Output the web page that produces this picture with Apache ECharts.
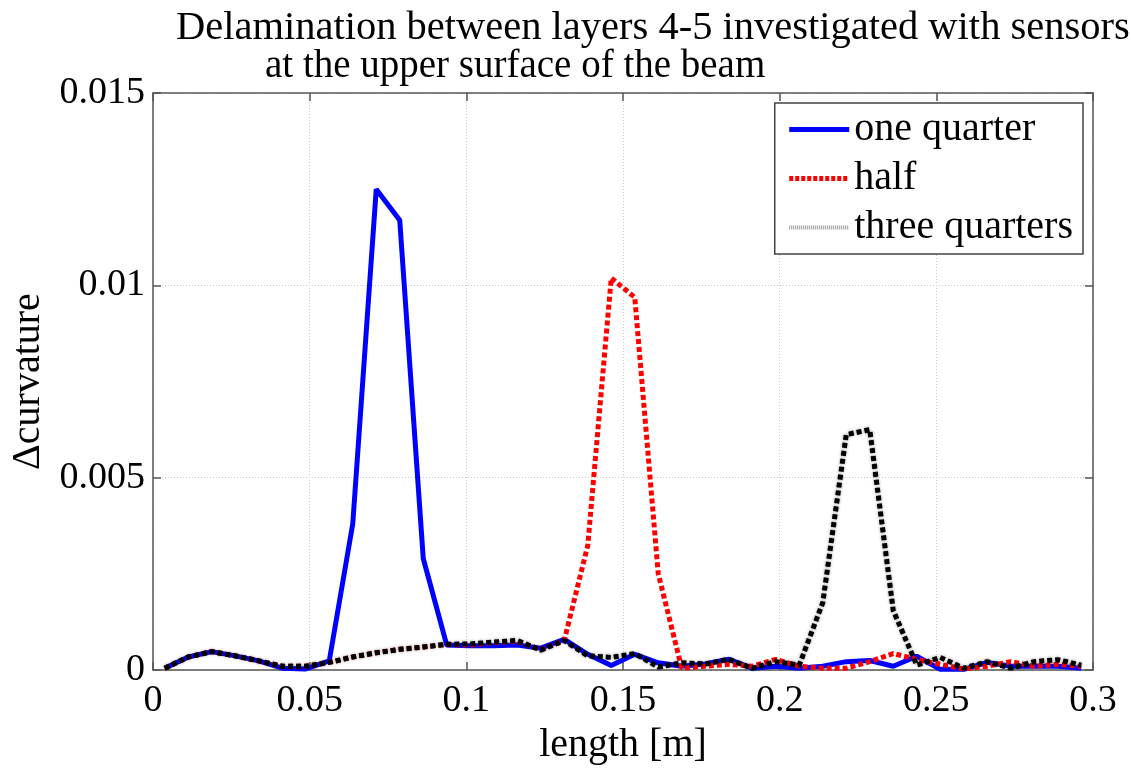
<!DOCTYPE html>
<html>
<head>
<meta charset="utf-8">
<script src="https://cdn.jsdelivr.net/npm/echarts@6/dist/echarts.min.js"></script>
<style>
html,body{margin:0;padding:0;background:#fff;}
#chart{width:1131px;height:770px;}
</style>
</head>
<body>
<div id="chart"></div>
<script>
// sensor positions along the beam [m]
var lengths = [0.00375, 0.01125, 0.01875, 0.02625, 0.03375, 0.04125, 0.04875, 0.05625, 0.06375, 0.07125,
               0.07875, 0.08625, 0.09375, 0.10125, 0.10875, 0.11625, 0.12375, 0.13125, 0.13875, 0.14625,
               0.15375, 0.16125, 0.16875, 0.17625, 0.18375, 0.19125, 0.19875, 0.20625, 0.21375, 0.22125,
               0.22875, 0.23625, 0.24375, 0.25125, 0.25875, 0.26625, 0.27375, 0.28125, 0.28875, 0.29625];

var oneQuarter = [0.00005, 0.00034, 0.00048, 0.00037, 0.00024, 0.00005, 0.00003, 0.00024, 0.0038, 0.0125,
                  0.01169, 0.0029, 0.00065, 0.00063, 0.00063, 0.00065, 0.00057, 0.0008, 0.00041, 0.00012,
                  0.00041, 0.00019, 0.0001, 0.00016, 0.00028, 0.00005, 0.0001, 0.00005, 0.0001, 0.00022,
                  0.00025, 0.0001, 0.00036, 0.00002, 0.00002, 0.0002, 0.0001, 0.0001, 0.0001, 0.00005];

var half = [0.00005, 0.00034, 0.00048, 0.00037, 0.00024, 0.0001, 0.0001, 0.0002, 0.00034, 0.00045,
            0.00054, 0.0006, 0.00067, 0.00065, 0.00072, 0.00075, 0.00053, 0.00077, 0.00324, 0.01019,
            0.00969, 0.0025, 0.00005, 0.0001, 0.00015, 0.0001, 0.00028, 0.0001, 0.00005, 0.00005,
            0.00022, 0.00043, 0.00028, 0.00015, 0.00003, 0.0001, 0.00022, 0.0001, 0.00015, 0.0001];

var threeQuarters = [0.00005, 0.00034, 0.00048, 0.00037, 0.00024, 0.0001, 0.0001, 0.0002, 0.00034, 0.00045,
                     0.00054, 0.0006, 0.00067, 0.00068, 0.00073, 0.00077, 0.00052, 0.00077, 0.00037, 0.00033,
                     0.00043, 0.00008, 0.00019, 0.00016, 0.00028, 0.00005, 0.00022, 0.00013, 0.00175, 0.00612,
                     0.00625, 0.00155, 0.00013, 0.00033, 0.00005, 0.00022, 0.00005, 0.00022, 0.00027, 0.00013];

var seriesNames = ['one quarter', 'half', 'three quarters'];
var titleLines = ['Delamination between layers 4-5 investigated with sensors', 'at the upper surface of the beam'];
var xLabel = 'length [m]';
var yLabel = '\u0394curvature';

function pairs(ys) { return lengths.map(function (x, i) { return [x, ys[i]]; }); }

var FONT = '"Liberation Serif", "Times New Roman", serif';
var AX = '#555';

var chart = echarts.init(document.getElementById('chart'));
chart.setOption({
  animation: false,
  backgroundColor: '#fff',
  textStyle: { fontFamily: FONT, color: '#000' },
  graphic: [
    { type: 'text', left: 176, top: 8, style: { text: titleLines[0], font: '40.5px ' + FONT, fill: '#000' } },
    { type: 'text', left: 265, top: 47, style: { text: titleLines[1], font: '39px ' + FONT, fill: '#000' } }
  ],
  grid: { left: 153, right: 38, top: 93, bottom: 94 },
  legend: {
    orient: 'vertical',
    right: 48,
    top: 103,
    backgroundColor: '#fff',
    borderColor: '#444',
    borderWidth: 1.5,
    borderRadius: 0,
    padding: [6, 10, 6, 12],
    itemWidth: 60,
    itemHeight: 14,
    itemGap: 8,
    itemStyle: { opacity: 0 },
    textStyle: { fontFamily: FONT, fontSize: 40, color: '#000', lineHeight: 41 },
    data: [
      { name: seriesNames[0], itemStyle: { opacity: 0 }, lineStyle: { color: '#0000ff', width: 5, type: 'solid' } },
      { name: seriesNames[1], itemStyle: { opacity: 0 }, lineStyle: { color: '#ff0000', width: 5, type: [4, 2] } },
      { name: seriesNames[2], itemStyle: { opacity: 0 }, lineStyle: { color: '#999', type: [1, 1], width: 4, shadowBlur: 0 } }
    ]
  },
  xAxis: [{
    type: 'value', min: 0, max: 0.3, interval: 0.05,
    name: xLabel, nameLocation: 'middle', nameGap: 42,
    nameTextStyle: { fontFamily: FONT, fontSize: 40, color: '#000' },
    axisLine: { show: true, onZero: false, lineStyle: { color: AX, width: 1.5 } },
    axisTick: { show: true, inside: true, length: 8, lineStyle: { color: AX, width: 1.5 } },
    axisLabel: { fontFamily: FONT, fontSize: 38, color: '#000', margin: 12,
      formatter: function (v) { return String(Math.round(v * 1000) / 1000); } },
    splitLine: { show: true, lineStyle: { color: '#c8c8c8', type: [1, 2], width: 1 } }
  }, {
    type: 'value', min: 0, max: 0.3, interval: 0.05, position: 'top',
    axisLine: { show: true, onZero: false, lineStyle: { color: AX, width: 1.5 } },
    axisTick: { show: true, inside: true, length: 8, lineStyle: { color: AX, width: 1.5 } },
    axisLabel: { show: false }, splitLine: { show: false }
  }],
  yAxis: [{
    type: 'value', min: 0, max: 0.015, interval: 0.005,
    name: yLabel, nameLocation: 'middle', nameGap: 105, nameRotate: 90,
    nameTextStyle: { fontFamily: FONT, fontSize: 40, color: '#000' },
    axisLine: { show: true, onZero: false, lineStyle: { color: AX, width: 1.5 } },
    axisTick: { show: true, inside: true, length: 8, lineStyle: { color: AX, width: 1.5 } },
    axisLabel: { fontFamily: FONT, fontSize: 38, color: '#000', margin: 8,
      formatter: function (v) { return String(Math.round(v * 10000) / 10000); } },
    splitLine: { show: true, lineStyle: { color: '#c8c8c8', type: [1, 2], width: 1 } }
  }, {
    type: 'value', min: 0, max: 0.015, interval: 0.005, position: 'right',
    axisLine: { show: true, onZero: false, lineStyle: { color: AX, width: 1.5 } },
    axisTick: { show: true, inside: true, length: 8, lineStyle: { color: AX, width: 1.5 } },
    axisLabel: { show: false }, splitLine: { show: false }
  }],
  series: [
    { name: seriesNames[0], type: 'line', symbol: 'none', data: pairs(oneQuarter),
      lineStyle: { color: '#0000ff', width: 5, type: 'solid' }, itemStyle: { color: '#0000ff' } },
    { name: seriesNames[1], type: 'line', symbol: 'none', data: pairs(half),
      lineStyle: { color: '#ff0000', width: 5, type: [5, 3] }, itemStyle: { color: '#ff0000' } },
    { name: seriesNames[2], type: 'line', symbol: 'none', data: pairs(threeQuarters),
      lineStyle: { color: '#000', width: 5, type: [5, 3], shadowColor: 'rgba(0,0,0,0.45)', shadowBlur: 3 },
      itemStyle: { color: '#000' } }
  ]
});
</script>
</body>
</html>
